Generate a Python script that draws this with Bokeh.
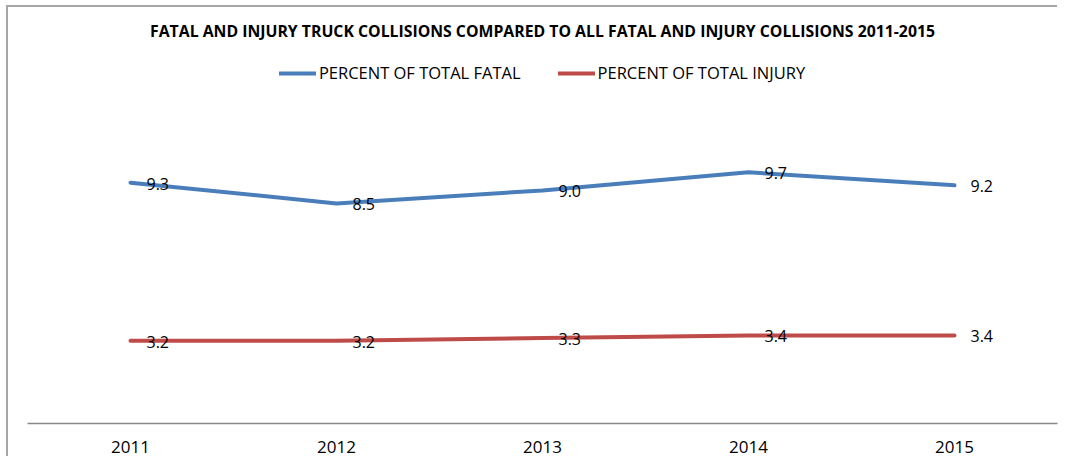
from bokeh.plotting import figure
from bokeh.models import ColumnDataSource, FactorRange, Range1d, LabelSet, Legend, LegendItem
from bokeh.core.properties import value
from bokeh.embed import file_html
from bokeh.resources import INLINE

years = ["2011", "2012", "2013", "2014", "2015"]
fatal_pct = [9.3, 8.5, 9.0, 9.7, 9.2]
injury_pct = [3.2, 3.2, 3.3, 3.4, 3.4]
series_names = ["PERCENT OF TOTAL FATAL", "PERCENT OF TOTAL INJURY"]
title_text = "FATAL AND INJURY TRUCK COLLISIONS COMPARED TO ALL FATAL AND INJURY COLLISIONS 2011-2015"

BLUE = "#4A7EBB"
RED = "#BE4B48"
FONT = "Open Sans"

src = ColumnDataSource(dict(
    year=years,
    fatal=fatal_pct,
    injury=injury_pct,
    fatal_lbl=[f"{v:.1f}" for v in fatal_pct],
    injury_lbl=[f"{v:.1f}" for v in injury_pct],
))

p = figure(width=1051, height=451, output_backend="svg", toolbar_location=None,
           x_range=FactorRange(*years), y_range=Range1d(0, 14.52),
           min_border_left=19, min_border_right=2, min_border_top=40, min_border_bottom=35)
p.styles = {"box-shadow": "-2px -2px 0px 0px #a6a6a6",
            "margin-left": "8px", "margin-top": "7px"}

p.title.text = title_text
p.title.align = "center"
p.title.text_font = FONT
p.title.text_font_style = "bold"
p.title.text_font_size = "15.8px"
p.title.text_color = "#000000"
p.title.standoff = 11

r1 = p.line("year", "fatal", source=src, line_color=BLUE, line_width=4, line_cap="round", line_join="round")
r2 = p.line("year", "injury", source=src, line_color=RED, line_width=4, line_cap="round", line_join="round")

for col in ["fatal", "injury"]:
    p.add_layout(LabelSet(x="year", y=col, text=col + "_lbl", source=src, x_offset=16, y_offset=-1,
                          text_baseline="middle", text_align="left", text_font_size=value("16px"),
                          text_font=value(FONT), text_color=value("#000000")))

legend = Legend(items=[LegendItem(label=series_names[0], renderers=[r1]),
                       LegendItem(label=series_names[1], renderers=[r2])],
                location="top_center", orientation="horizontal",
                glyph_width=37, label_standoff=3, spacing=37, padding=15, margin=14,
                border_line_color=None, background_fill_alpha=0,
                label_text_font=FONT, label_text_font_size="16.5px", label_text_color="#000000")
p.add_layout(legend)

p.yaxis.visible = False
p.xgrid.visible = False
p.ygrid.visible = False
p.outline_line_color = None
p.xaxis.axis_line_color = "#878787"
p.xaxis.axis_line_width = 1.5
p.xaxis.major_tick_line_color = None
p.xaxis.minor_tick_line_color = None
p.xaxis.major_label_text_font = FONT
p.xaxis.major_label_text_font_size = "17px"
p.xaxis.major_label_text_color = "#000000"
p.xaxis.major_label_standoff = 11

open("out.html", "w").write(file_html(p, INLINE))
